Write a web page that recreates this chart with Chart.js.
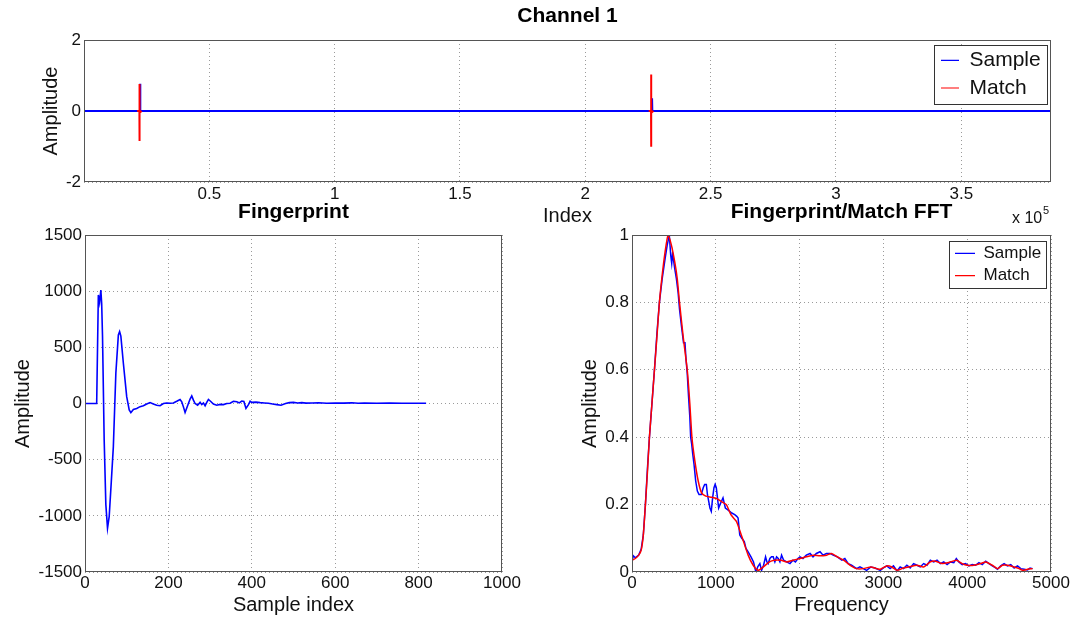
<!DOCTYPE html>
<html><head><meta charset="utf-8">
<script src="https://cdn.jsdelivr.net/npm/chart.js@4.4.1/dist/chart.umd.min.js"></script>
<style>
html,body{margin:0;padding:0;background:#fff;overflow:hidden;}
.layer{position:absolute;left:0;top:0;width:1074px;height:624px;}
</style></head><body>
<div class="layer"><canvas id="cTop" width="1074" height="624"></canvas></div>
<div class="layer"><canvas id="cFp" width="1074" height="624"></canvas></div>
<div class="layer"><canvas id="cFft" width="1074" height="624"></canvas></div>
<script>
// ---------- Channel 1 (top) ----------
const topSampleIdx = [1, 22000, 22350, 22400, 22450, 80000, 160000, 226400, 226600, 226700, 300000, 385800];
const topSampleAmp = [0, 0, 0, 0.77, 0, 0, 0, 0, 0.36, 0, 0, 0];
const topMatchIdx = [21200, 22100, 22130, 22150, 22175, 22200, 23000, 23001, 225300, 226230, 226260, 226280, 226300, 226330, 227200];
const topMatchAmp = [0, 0, 0.76, -0.845, 0.48, -0.05, 0, null, 0, 0, 1.03, -1.01, 0.6, -0.05, 0];
const topXTicks = [50000, 100000, 150000, 200000, 250000, 300000, 350000];
const topXLabels = ['0.5', '1', '1.5', '2', '2.5', '3', '3.5'];
const topYTicks = [-2, 0, 2];
const topYLabels = ['-2', '0', '2'];

// ---------- Fingerprint (bottom left) ----------
const fpIndex = [
  0, 28, 32, 35, 38, 40, 42, 46, 50, 54,
  58, 63, 68, 74, 80, 83, 86, 92, 100, 106,
  110, 116, 124, 132, 140, 148, 156, 164, 172, 180,
  188, 196, 204, 212, 220, 228, 232, 236, 240, 244,
  248, 252, 256, 260, 264, 270, 276, 280, 284, 288,
  292, 296, 301, 308, 316, 324, 332, 340, 348, 356,
  364, 370, 376, 381, 386, 392, 396, 400, 410, 420,
  430, 440, 450, 460, 470, 481, 490, 500, 510, 520,
  530, 545, 560, 580, 600, 620, 640, 655, 670, 700,
  730, 760, 790, 818];
const fpAmp = [
  0, 0, 966, 900, 1010, 890, 600, -325, -900, -1110,
  -1008, -700, -384, 271, 610, 640, 600, 358, 61, -58,
  -82, -53, -45, -28, -20, -5, 8, -5, -15, -20,
  0, 5, 2, 5, 20, 36, 15, -30, -80, -40,
  0, 40, 68, 30, 0, -15, 10, -10, 5, -20,
  10, 36, 20, -5, -15, -8, -10, 0, 2, 20,
  15, 5, 22, 18, -44, -10, 20, 10, 12, 8,
  5, 2, -5, -10, -15, 0, 8, 10, 5, 8,
  3, 5, 6, 2, 5, 3, 6, 2, 4, 2,
  3, 2, 2, 2];
const fpXTicks = [0, 200, 400, 600, 800, 1000];
const fpXLabels = ['0', '200', '400', '600', '800', '1000'];
const fpYTicks = [-1500, -1000, -500, 0, 500, 1000, 1500];
const fpYLabels = ['-1500', '-1000', '-500', '0', '500', '1000', '1500'];

// ---------- Fingerprint/Match FFT (bottom right) ----------
const fftSampleFreq = [
  0, 15, 40, 80, 110, 135, 160, 185, 208, 238,
  268, 298, 327, 360, 395, 420, 445, 462, 474, 484,
  493, 510, 530, 550, 567, 590, 605, 615, 632, 645,
  659, 675, 690, 700, 712, 725, 740, 760, 780, 800,
  827, 850, 867, 887, 900, 915, 930, 946, 962, 978,
  992, 1006, 1020, 1034, 1050, 1068, 1086, 1100, 1114, 1140,
  1166, 1190, 1226, 1250, 1266, 1286, 1310, 1340, 1360, 1386,
  1420, 1450, 1478, 1500, 1526, 1546, 1570, 1594, 1610, 1625,
  1645, 1665, 1685, 1705, 1725, 1745, 1765, 1785, 1810, 1845,
  1885, 1920, 1950, 1980, 2005, 2040, 2080, 2125, 2160, 2200,
  2244, 2280, 2320, 2364, 2400, 2450, 2504, 2540, 2580, 2620,
  2680, 2720, 2760, 2800, 2850, 2900, 2963, 3000, 3040, 3080,
  3120, 3163, 3200, 3240, 3280, 3320, 3360, 3400, 3440, 3480,
  3520, 3560, 3600, 3640, 3680, 3720, 3760, 3800, 3840, 3870,
  3900, 3940, 3980, 4020, 4060, 4100, 4140, 4180, 4221, 4260,
  4300, 4340, 4361, 4400, 4440, 4480, 4520, 4560, 4600, 4640,
  4680, 4720, 4750, 4780];
const fftSampleAmp = [
  0.03, 0.048, 0.042, 0.05, 0.068, 0.11, 0.2, 0.31, 0.4, 0.5,
  0.6, 0.71, 0.8, 0.87, 0.93, 0.97, 1.0, 0.94, 0.916, 0.945,
  0.93, 0.9, 0.87, 0.83, 0.78, 0.73, 0.7, 0.68, 0.68, 0.63,
  0.59, 0.52, 0.46, 0.4, 0.38, 0.35, 0.32, 0.27, 0.24, 0.23,
  0.23, 0.25, 0.26, 0.26, 0.23, 0.21, 0.19, 0.18, 0.22, 0.25,
  0.26, 0.25, 0.22, 0.19, 0.2, 0.21, 0.22, 0.205, 0.19, 0.185,
  0.18, 0.175, 0.17, 0.165, 0.16, 0.11, 0.1, 0.09, 0.07, 0.06,
  0.045, 0.03, 0.0, 0.015, 0.025, 0.005, 0.02, 0.045, 0.03, 0.025,
  0.04, 0.045, 0.045, 0.03, 0.045, 0.04, 0.03, 0.05, 0.035, 0.03,
  0.025, 0.035, 0.03, 0.04, 0.045, 0.04, 0.05, 0.055, 0.045, 0.055,
  0.06, 0.05, 0.055, 0.055, 0.05, 0.045, 0.035, 0.04, 0.025, 0.02,
  0.01, 0.015, 0.01, 0.005, 0.015, 0.012, 0.005, 0.012, 0.018, 0.01,
  0.018, 0.003, 0.015, 0.01, 0.02, 0.012, 0.025, 0.02, 0.015, 0.025,
  0.02, 0.035, 0.03, 0.035, 0.025, 0.03, 0.022, 0.03, 0.028, 0.04,
  0.03, 0.022, 0.025, 0.018, 0.022, 0.02, 0.028, 0.022, 0.032, 0.025,
  0.018, 0.012, 0.008, 0.018, 0.025, 0.018, 0.022, 0.012, 0.018, 0.01,
  0.008, 0.006, 0.012, 0.01];
const fftMatchFreq = [
  0, 40, 80, 110, 135, 160, 185, 208, 238, 268,
  298, 327, 360, 395, 431, 470, 510, 540, 567, 610,
  659, 690, 715, 750, 790, 830, 880, 950, 1010, 1060,
  1126, 1180, 1246, 1290, 1318, 1386, 1446, 1506, 1566, 1640,
  1700, 1780, 1845, 1920, 2005, 2080, 2165, 2240, 2324, 2380,
  2450, 2524, 2604, 2680, 2760, 2850, 2920, 2963, 3040, 3100,
  3163, 3240, 3300, 3400, 3480, 3560, 3620, 3700, 3780, 3870,
  3940, 4000, 4080, 4160, 4221, 4300, 4361, 4420, 4480, 4560,
  4620, 4661, 4720, 4780];
const fftMatchAmp = [
  0.035, 0.04, 0.05, 0.065, 0.11, 0.2, 0.3, 0.4, 0.5, 0.6,
  0.7, 0.8, 0.88, 0.95, 1.0, 0.97, 0.92, 0.87, 0.8, 0.7,
  0.6, 0.5, 0.4, 0.33, 0.27, 0.235, 0.225, 0.222, 0.218, 0.21,
  0.2, 0.17, 0.15, 0.12, 0.1, 0.05, 0.02, 0.005, 0.015, 0.03,
  0.035, 0.035, 0.03, 0.035, 0.04, 0.045, 0.05, 0.048, 0.05, 0.055,
  0.045, 0.035, 0.02, 0.01, 0.01, 0.015, 0.01, 0.008, 0.018, 0.015,
  0.005, 0.012, 0.015, 0.02, 0.015, 0.03, 0.032, 0.025, 0.028, 0.035,
  0.025, 0.02, 0.02, 0.025, 0.03, 0.02, 0.01, 0.02, 0.02, 0.015,
  0.01, 0.005, 0.008, 0.01];
const fftXTicks = [0, 1000, 2000, 3000, 4000, 5000];
const fftXLabels = ['0', '1000', '2000', '3000', '4000', '5000'];
const fftYTicks = [0, 0.2, 0.4, 0.6, 0.8, 1];
const fftYLabels = ['0', '0.2', '0.4', '0.6', '0.8', '1'];

// ---------- styling / helpers ----------
const FONT = "'Liberation Sans', Arial, Helvetica, sans-serif";
const TXT = '#111';
const GRID = '#9a9a9a';
Chart.defaults.font.family = FONT;
Chart.defaults.color = TXT;
Chart.defaults.animation = false;

const pts = (xs, ys) => xs.map((x, i) => ({x: x, y: ys[i]}));

function xAxis(min, max, ticks, labels, title, titlePad, labelPad, height) {
  return {
    type: 'linear', position: 'bottom', min: min, max: max,
    afterBuildTicks: s => { s.ticks = ticks.map(v => ({value: v})); },
    afterFit: s => { s.height = height; },
    ticks: {autoSkip: false, maxRotation: 0, minRotation: 0, padding: labelPad,
            font: {size: 17}, color: TXT, callback: (v, i) => labels[i]},
    grid: {color: GRID, lineWidth: 1, drawTicks: false},
    border: {display: false, dash: [1, 3]},
    title: {display: true, text: title, color: TXT,
            font: {size: 20, lineHeight: '24px'}, padding: {top: 0, bottom: titlePad}}
  };
}
function yAxis(min, max, ticks, labels, title, titlePad, width) {
  return {
    type: 'linear', position: 'left', min: min, max: max,
    afterBuildTicks: s => { s.ticks = ticks.map(v => ({value: v})); },
    afterFit: s => { s.width = width; },
    ticks: {autoSkip: false, padding: 3, font: {size: 17}, color: TXT,
            callback: (v, i) => labels[i]},
    grid: {color: GRID, lineWidth: 1, drawTicks: false},
    border: {display: false, dash: [1, 3]},
    title: {display: true, text: title, color: TXT,
            font: {size: 20, lineHeight: '24px'}, padding: {top: titlePad, bottom: 0}}
  };
}
function legendOpts(size, pad, lineLen) {
  return {
    display: true, position: 'chartArea', align: 'start',
    labels: {
      usePointStyle: true, pointStyle: 'line', pointStyleWidth: lineLen,
      font: {size: size}, padding: pad, textAlign: 'left', color: TXT,
      sort: (a, b) => a.datasetIndex - b.datasetIndex,
      generateLabels: (chart) => Chart.defaults.plugins.legend.labels.generateLabels(chart)
        .map(it => Object.assign(it, {lineWidth: 1.2}))
    }
  };
}

// Frame, legend box placement and exponent note
const matlabFrame = {
  id: 'matlabFrame',
  afterLayout(chart, args, o) {
    const lg = chart.legend;
    if (lg && o.legendPos) {
      lg.left = o.legendPos[0];
      lg.top = o.legendPos[1];
      lg.right = lg.left + lg.width;
      lg.bottom = chart.chartArea.bottom;
      lg.height = lg.bottom - lg.top;
    }
  },
  beforeDatasetsDraw(chart, args, o) {
    if (!o.legendBox) return;
    const ctx = chart.ctx;
    const [x, y, w, h] = o.legendBox;
    ctx.save();
    ctx.fillStyle = '#fff';
    ctx.fillRect(x, y, w, h);
    ctx.strokeStyle = '#333';
    ctx.lineWidth = 1;
    ctx.strokeRect(x + 0.5, y + 0.5, w, h);
    ctx.restore();
    chart.legend.draw();
  },
  afterDraw(chart, args, o) {
    const ctx = chart.ctx, a = chart.chartArea;
    ctx.save();
    ctx.strokeStyle = '#555';
    ctx.lineWidth = 1;
    ctx.strokeRect(Math.round(a.left) + 0.5, Math.round(a.top) + 0.5,
                   Math.round(a.right - a.left) - 1, Math.round(a.bottom - a.top) - 1);
    (o.notes || []).forEach(n => {
      ctx.font = n.size + 'px ' + FONT;
      ctx.fillStyle = TXT;
      ctx.textAlign = 'left';
      ctx.textBaseline = 'alphabetic';
      ctx.fillText(n.text, n.x, n.y);
    });
    ctx.restore();
  }
};

function titleOpts(text, top, bottom) {
  return {display: true, text: text, fullSize: false, color: '#000',
          font: {size: 21, weight: 'bold', lineHeight: '23px'},
          padding: {top: top, bottom: bottom}};
}

// ---------- Chart 1 : Channel 1 ----------
new Chart(document.getElementById('cTop'), {
  type: 'line',
  data: {datasets: [
    {label: 'Sample', data: pts(topSampleIdx, topSampleAmp), borderColor: '#0000ff',
     backgroundColor: '#0000ff', borderWidth: 2.2, pointRadius: 0, tension: 0, order: 2},
    {label: 'Match', data: pts(topMatchIdx, topMatchAmp), borderColor: '#ff0000',
     backgroundColor: '#ff0000', borderWidth: 2, pointRadius: 0, tension: 0, spanGaps: false, order: 1}
  ]},
  options: {
    responsive: false, devicePixelRatio: 1, animation: false,
    layout: {padding: {top: 0, left: 0, right: 23, bottom: 394}},
    scales: {
      x: xAxis(1, 385800, topXTicks, topXLabels, 'Index', 2, 2, 48),
      y: yAxis(-2, 2, topYTicks, topYLabels, 'Amplitude', 39, 84)
    },
    plugins: {
      title: titleOpts('Channel 1', 5, 12),
      legend: legendOpts(21, 6.6, 18),
      tooltip: {enabled: false},
      matlabFrame: {legendPos: [934.4, 43.3], legendBox: [934, 45, 113, 59],
        notes: [{text: 'x 10', x: 1012, y: 223, size: 16}, {text: '5', x: 1043, y: 214, size: 11}]}
    }
  },
  plugins: [matlabFrame]
});

// ---------- Chart 2 : Fingerprint ----------
new Chart(document.getElementById('cFp'), {
  type: 'line',
  data: {datasets: [
    {label: 'Fingerprint', data: pts(fpIndex, fpAmp), borderColor: '#0000ff',
     backgroundColor: '#0000ff', borderWidth: 1.6, pointRadius: 0, tension: 0}
  ]},
  options: {
    responsive: false, devicePixelRatio: 1, animation: false,
    layout: {padding: {top: 190, left: 0, right: 572, bottom: 0}},
    scales: {
      x: xAxis(0, 1000, fpXTicks, fpXLabels, 'Sample index', 7, 1, 52),
      y: yAxis(-1500, 1500, fpYTicks, fpYLabels, 'Amplitude', 11, 85)
    },
    plugins: {
      title: titleOpts('Fingerprint', 10.5, 11.5),
      legend: {display: false},
      tooltip: {enabled: false},
      matlabFrame: {}
    }
  },
  plugins: [matlabFrame]
});

// ---------- Chart 3 : Fingerprint/Match FFT ----------
new Chart(document.getElementById('cFft'), {
  type: 'line',
  data: {datasets: [
    {label: 'Sample', data: pts(fftSampleFreq, fftSampleAmp), borderColor: '#0000ff',
     backgroundColor: '#0000ff', borderWidth: 1.5, pointRadius: 0, tension: 0, order: 2},
    {label: 'Match', data: pts(fftMatchFreq, fftMatchAmp), borderColor: '#ff0000',
     backgroundColor: '#ff0000', borderWidth: 1.5, pointRadius: 0, tension: 0.2, order: 1}
  ]},
  options: {
    responsive: false, devicePixelRatio: 1, animation: false,
    layout: {padding: {top: 190, left: 560, right: 23, bottom: 0}},
    scales: {
      x: xAxis(0, 5000, fftXTicks, fftXLabels, 'Frequency', 7, 1, 52),
      y: yAxis(0, 1, fftYTicks, fftYLabels, 'Amplitude', 18.5, 72)
    },
    plugins: {
      title: titleOpts('Fingerprint/Match FFT', 10.5, 11.5),
      legend: legendOpts(17, 5.4, 20),
      tooltip: {enabled: false},
      matlabFrame: {legendPos: [949.6, 239.4], legendBox: [949, 241, 97, 47]}
    }
  },
  plugins: [matlabFrame]
});
</script>
</body></html>
